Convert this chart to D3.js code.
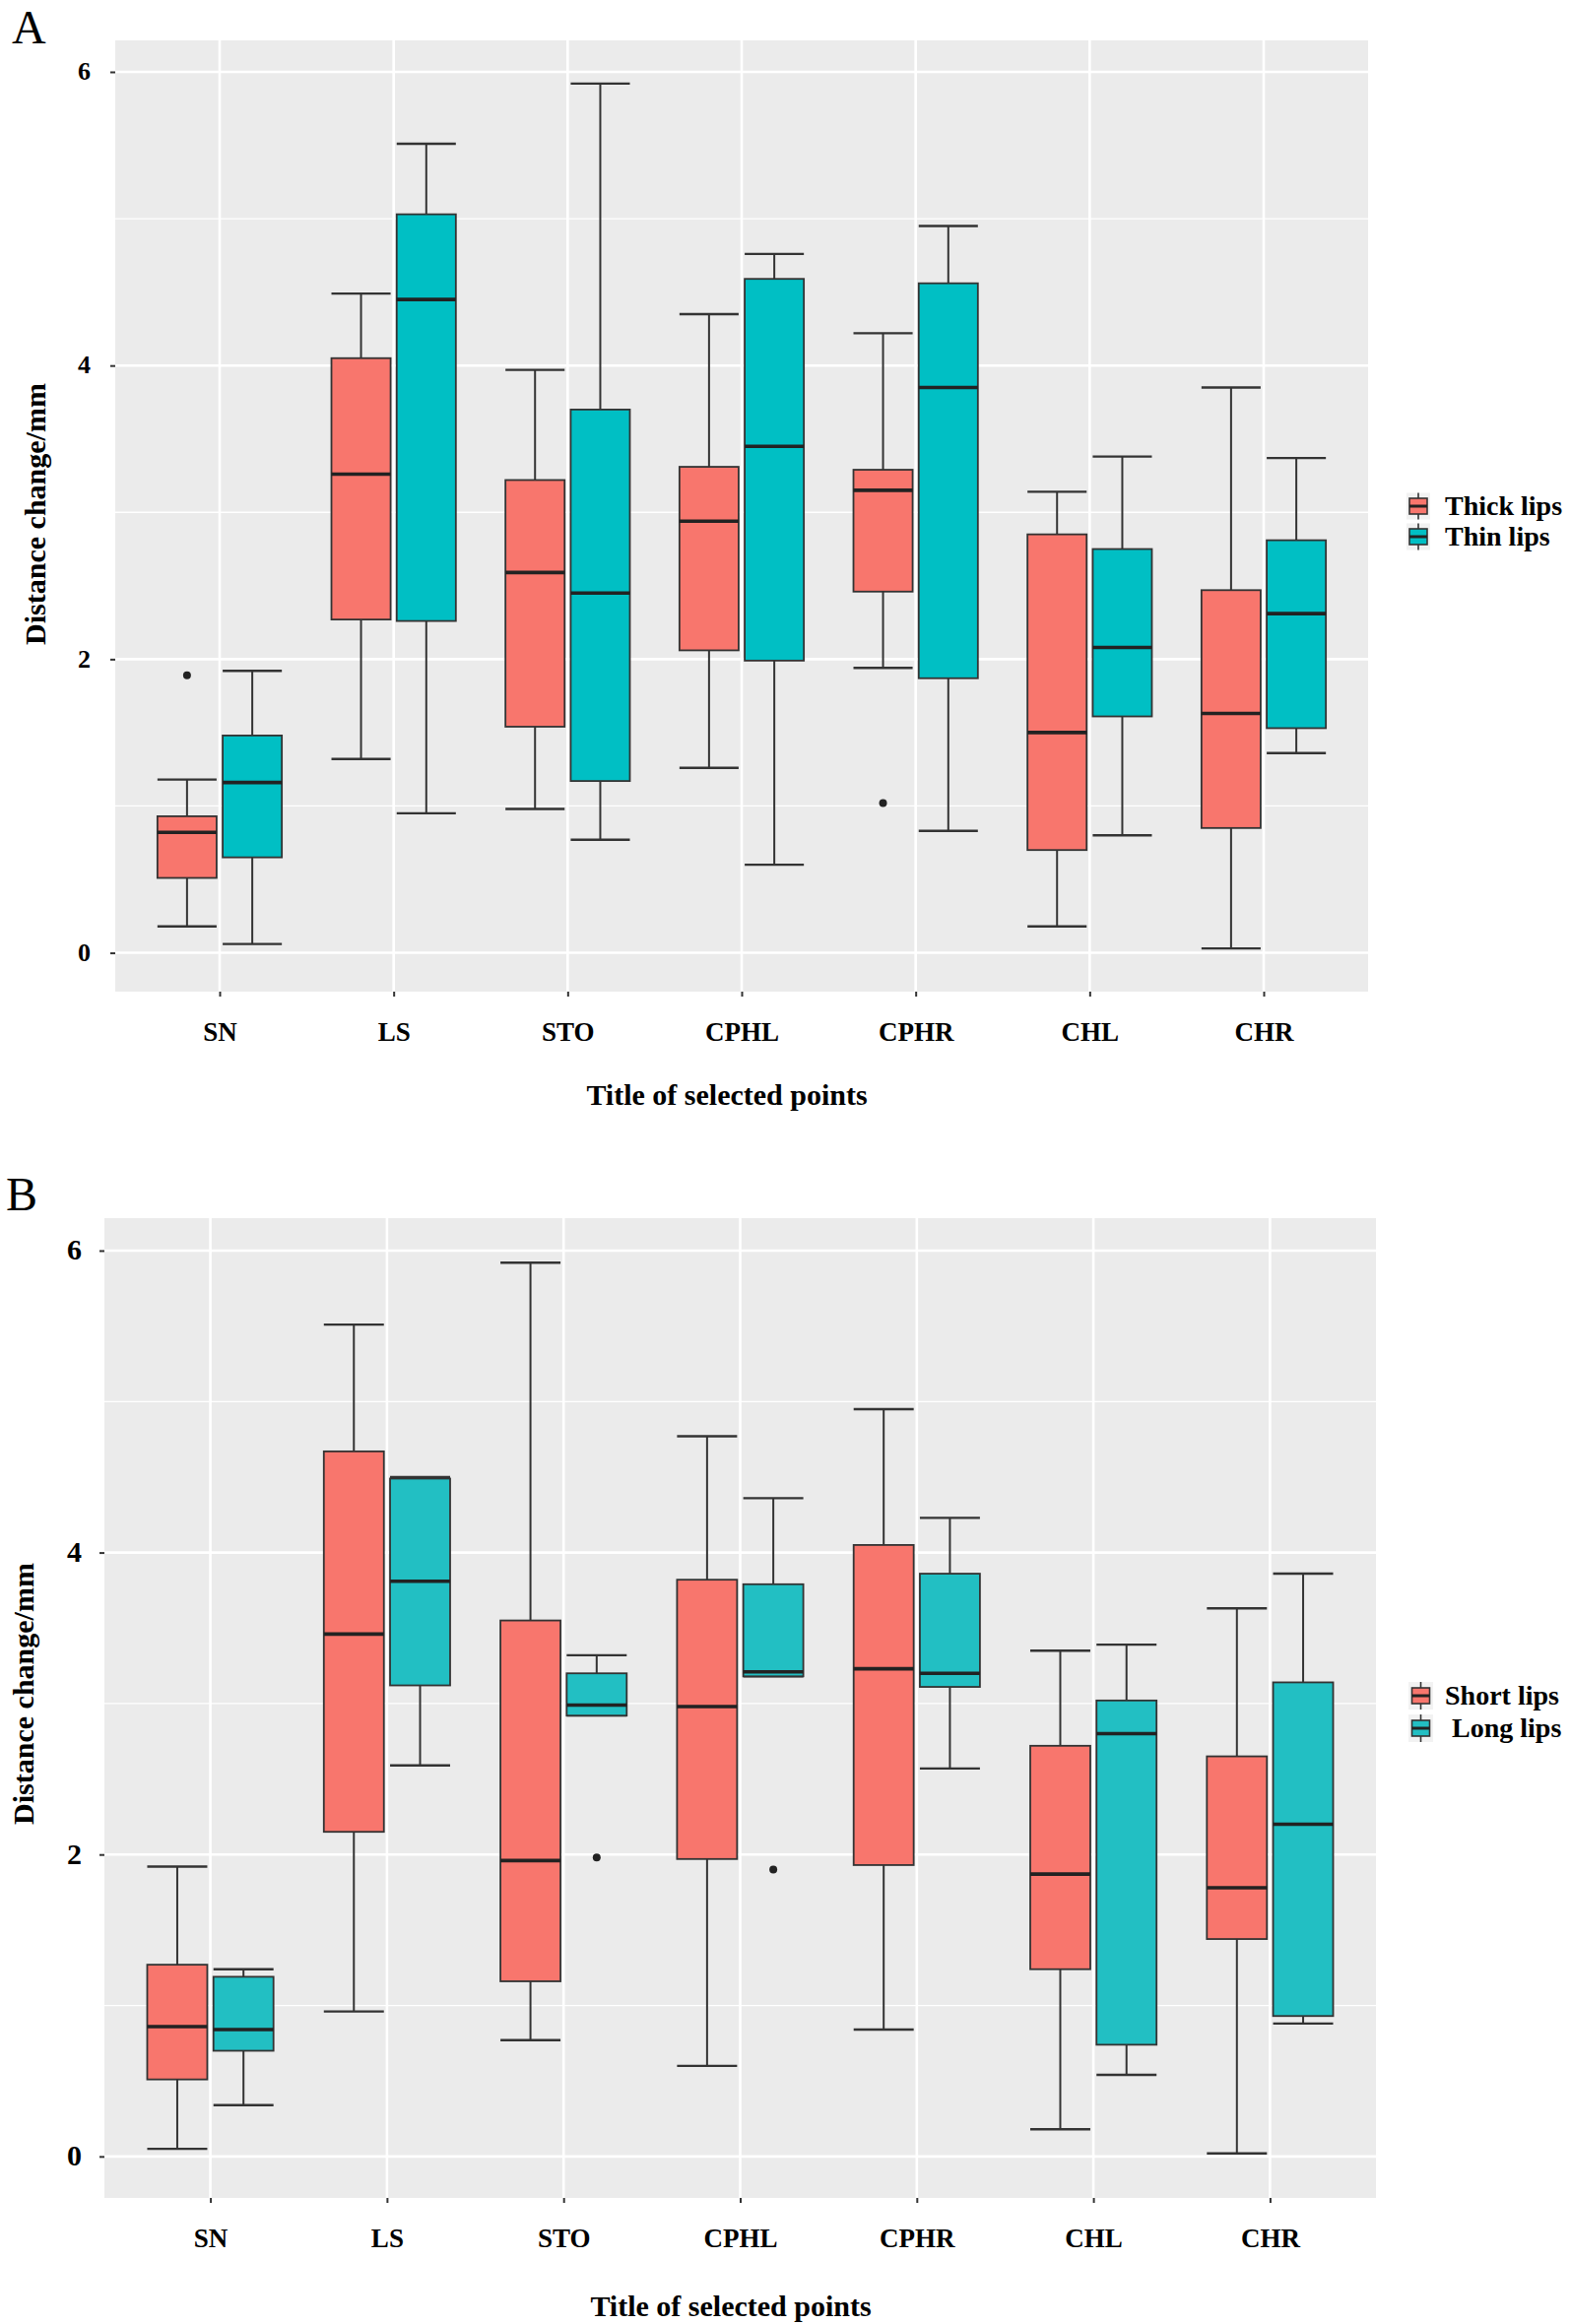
<!DOCTYPE html>
<html>
<head>
<meta charset="utf-8">
<script src="https://cdn.jsdelivr.net/npm/d3@7"></script>
<style>
  html, body { margin: 0; padding: 0; background: #ffffff; }
  svg { display: block; }
  text { font-family: "Liberation Serif", "Times New Roman", serif; fill: #000; }
</style>
</head>
<body>
<svg id="chart" width="1594" height="2360"></svg>
<script>
// ---------------- DATA ----------------
const categories = ["SN", "LS", "STO", "CPHL", "CPHR", "CHL", "CHR"];
const yTicks = [0, 2, 4, 6];
const yMinorTicks = [1, 3, 5];

// Each row: [lower whisker, Q1, median, Q3, upper whisker]
// Panel A
const thickLips = [
  [0.18, 0.51, 0.82, 0.93, 1.18],
  [1.32, 2.27, 3.26, 4.05, 4.49],
  [0.98, 1.54, 2.59, 3.22, 3.97],
  [1.26, 2.06, 2.94, 3.31, 4.35],
  [1.94, 2.46, 3.15, 3.29, 4.22],
  [0.18, 0.70, 1.50, 2.85, 3.14],
  [0.03, 0.85, 1.63, 2.47, 3.85]
];
const thinLips = [
  [0.06, 0.65, 1.16, 1.48, 1.92],
  [0.95, 2.26, 4.45, 5.03, 5.51],
  [0.77, 1.17, 2.45, 3.70, 5.92],
  [0.60, 1.99, 3.45, 4.59, 4.76],
  [0.83, 1.87, 3.85, 4.56, 4.95],
  [0.80, 1.61, 2.08, 2.75, 3.38],
  [1.36, 1.53, 2.31, 2.81, 3.37]
];
const thickOutliers = [["SN", 1.89], ["CPHR", 1.02]];
const thinOutliers = [];

// Panel B
const shortLips = [
  [0.05, 0.51, 0.86, 1.27, 1.92],
  [0.96, 2.15, 3.46, 4.67, 5.51],
  [0.77, 1.16, 1.96, 3.55, 5.92],
  [0.60, 1.97, 2.98, 3.82, 4.77],
  [0.84, 1.93, 3.23, 4.05, 4.95],
  [0.18, 1.24, 1.87, 2.72, 3.35],
  [0.02, 1.44, 1.78, 2.65, 3.63]
];
const longLips = [
  [0.34, 0.70, 0.84, 1.19, 1.24],
  [2.59, 3.12, 3.81, 4.49, 4.50],
  [2.92, 2.92, 2.99, 3.20, 3.32],
  [3.18, 3.18, 3.21, 3.79, 4.36],
  [2.57, 3.11, 3.20, 3.86, 4.23],
  [0.54, 0.74, 2.80, 3.02, 3.39],
  [0.88, 0.93, 2.20, 3.14, 3.86]
];
const shortOutliers = [];
const longOutliers = [["STO", 1.98], ["CPHL", 1.90]];

// ---------------- DRAWING ----------------
const svg = d3.select("#chart");

function drawPanel(cfg) {
  const g = svg.append("g");
  const { left, right, top, bottom } = cfg.box;

  // y domain from data with 5% expansion (ggplot default)
  const allVals = [];
  cfg.series.forEach(s => {
    s.stats.forEach(r => r.forEach(v => allVals.push(v)));
    s.outliers.forEach(o => allVals.push(o[1]));
  });
  const lo = d3.min(allVals), hi = d3.max(allVals);
  const pad = (hi - lo) * 0.05;

  const y = d3.scaleLinear().domain([lo - pad, hi + pad]).range([bottom, top]);
  const x = d3.scalePoint().domain(categories).range([left, right]).padding(0.6);
  const step = x.step();
  const boxW = step * 0.34;
  const dodge = step * 0.1875;

  // panel background
  g.append("rect")
    .attr("x", left).attr("y", top)
    .attr("width", right - left).attr("height", bottom - top)
    .attr("fill", "#EBEBEB");

  // minor gridlines
  g.selectAll(".minor").data(yMinorTicks).enter().append("line")
    .attr("x1", left).attr("x2", right)
    .attr("y1", d => y(d)).attr("y2", d => y(d))
    .attr("stroke", "#ffffff").attr("stroke-width", 1.3);

  // major gridlines
  g.selectAll(".major").data(yTicks).enter().append("line")
    .attr("x1", left).attr("x2", right)
    .attr("y1", d => y(d)).attr("y2", d => y(d))
    .attr("stroke", "#ffffff").attr("stroke-width", 2.6);
  g.selectAll(".vmajor").data(categories).enter().append("line")
    .attr("x1", d => x(d)).attr("x2", d => x(d))
    .attr("y1", top).attr("y2", bottom)
    .attr("stroke", "#ffffff").attr("stroke-width", 2.6);

  // boxplots
  cfg.series.forEach((s, si) => {
    const off = si === 0 ? -dodge : dodge;
    categories.forEach((c, ci) => {
      const [wl, q1, md, q3, wu] = s.stats[ci];
      const cx = x(c) + off;
      const bg = g.append("g");
      // whiskers
      bg.append("line").attr("x1", cx).attr("x2", cx)
        .attr("y1", y(q3)).attr("y2", y(wu))
        .attr("stroke", "#333").attr("stroke-width", 2);
      bg.append("line").attr("x1", cx).attr("x2", cx)
        .attr("y1", y(q1)).attr("y2", y(wl))
        .attr("stroke", "#333").attr("stroke-width", 2);
      // error bar caps
      [wu, wl].forEach(v => {
        bg.append("line")
          .attr("x1", cx - boxW / 2).attr("x2", cx + boxW / 2)
          .attr("y1", y(v)).attr("y2", y(v))
          .attr("stroke", "#333").attr("stroke-width", 2.4);
      });
      // box
      bg.append("rect")
        .attr("x", cx - boxW / 2).attr("y", y(q3))
        .attr("width", boxW).attr("height", Math.max(0.5, y(q1) - y(q3)))
        .attr("fill", s.color).attr("stroke", "#333").attr("stroke-width", 1.8);
      // median
      bg.append("line")
        .attr("x1", cx - boxW / 2).attr("x2", cx + boxW / 2)
        .attr("y1", y(md)).attr("y2", y(md))
        .attr("stroke", "#222").attr("stroke-width", 3.6);
    });
    // outliers
    g.selectAll(null).data(s.outliers).enter().append("circle")
      .attr("cx", d => x(d[0]) + off)
      .attr("cy", d => y(d[1]))
      .attr("r", 4)
      .attr("fill", "#222");
  });

  // y axis
  const yAxis = g.append("g").attr("transform", `translate(${left},0)`)
    .call(d3.axisLeft(y).tickValues(yTicks).tickSize(5).tickPadding(cfg.yTickPad).tickFormat(d3.format("d")));
  yAxis.select(".domain").remove();
  yAxis.selectAll(".tick line").attr("stroke", "#333").attr("stroke-width", 2);
  yAxis.selectAll(".tick text")
    .attr("font-family", "Liberation Serif")
    .attr("font-weight", "bold")
    .attr("font-size", cfg.yTickFont)
    .attr("fill", "#000")
    .attr("dy", "0.3em");

  // x axis
  const xAxis = g.append("g").attr("transform", `translate(0,${bottom})`)
    .call(d3.axisBottom(x).tickSize(5).tickPadding(26));
  xAxis.select(".domain").remove();
  xAxis.selectAll(".tick line").attr("stroke", "#333").attr("stroke-width", 2);
  xAxis.selectAll(".tick text")
    .attr("font-family", "Liberation Serif")
    .attr("font-weight", "bold")
    .attr("font-size", 27)
    .attr("fill", "#000")
    .attr("dy", "0.71em");

  // axis titles
  g.append("text")
    .attr("x", cfg.xTitle.x).attr("y", cfg.xTitle.y)
    .attr("text-anchor", "middle")
    .attr("font-weight", "bold").attr("font-size", 30)
    .text("Title of selected points");
  g.append("text")
    .attr("transform", `translate(${cfg.yTitle.x},${cfg.yTitle.y}) rotate(-90)`)
    .attr("text-anchor", "middle")
    .attr("font-weight", "bold").attr("font-size", 30)
    .text("Distance change/mm");

  // panel letter
  g.append("text")
    .attr("x", cfg.letter.x).attr("y", cfg.letter.y)
    .attr("font-size", 48)
    .text(cfg.letter.text);

  // legend
  const L = cfg.legend;
  cfg.series.forEach((s, si) => {
    const cy = L.y0 + si * L.dy;
    const lg = g.append("g");
    lg.append("rect")
      .attr("x", L.x).attr("y", cy - L.kh / 2)
      .attr("width", L.kw).attr("height", L.kh)
      .attr("fill", "#F2F2F2");
    const kcx = L.x + L.kw / 2;
    lg.append("line").attr("x1", kcx).attr("x2", kcx)
      .attr("y1", cy - L.kh / 2).attr("y2", cy + L.kh / 2)
      .attr("stroke", "#333").attr("stroke-width", 1.6);
    lg.append("rect")
      .attr("x", kcx - 9).attr("y", cy - 8)
      .attr("width", 18).attr("height", 16)
      .attr("fill", s.color).attr("stroke", "#333").attr("stroke-width", 1.6);
    lg.append("line").attr("x1", kcx - 9).attr("x2", kcx + 9)
      .attr("y1", cy).attr("y2", cy)
      .attr("stroke", "#222").attr("stroke-width", 3);
    lg.append("text")
      .attr("x", L.tx + (s.labelDx || 0)).attr("y", cy + 9)
      .attr("font-weight", "bold").attr("font-size", 28)
      .text(s.name);
  });
}

drawPanel({
  box: { left: 117, right: 1389, top: 41, bottom: 1007 },
  series: [
    { name: "Thick lips", color: "#F8766D", stats: thickLips, outliers: thickOutliers },
    { name: "Thin lips", color: "#00BFC4", stats: thinLips, outliers: thinOutliers }
  ],
  yTickFont: 26,
  yTickPad: 20,
  xTitle: { x: 738, y: 1122 },
  yTitle: { x: 46, y: 522 },
  letter: { x: 12, y: 44, text: "A" },
  legend: { x: 1428, y0: 514, dy: 31, kw: 24, kh: 27, tx: 1467 }
});

drawPanel({
  box: { left: 106, right: 1397, top: 1237, bottom: 2232 },
  series: [
    { name: "Short lips", color: "#F8766D", stats: shortLips, outliers: shortOutliers },
    { name: "Long lips", color: "#22BFC3", stats: longLips, outliers: longOutliers, labelDx: 7 }
  ],
  yTickFont: 30,
  yTickPad: 18,
  xTitle: { x: 742, y: 2352 },
  yTitle: { x: 34, y: 1720 },
  letter: { x: 6, y: 1229, text: "B" },
  legend: { x: 1430, y0: 1722, dy: 33, kw: 25, kh: 28, tx: 1467 }
});
</script>
</body>
</html>
